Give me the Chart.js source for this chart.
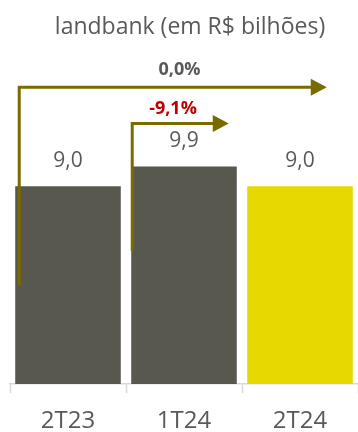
<!DOCTYPE html>
<html>
<head>
<meta charset="utf-8">
<script src="https://cdn.jsdelivr.net/npm/chart.js@4/dist/chart.umd.min.js"></script>
<style>
html,body{margin:0;padding:0;background:#fff;}
#wrap{width:358px;height:432px;}
</style>
</head>
<body>
<div id="wrap"><canvas id="chartLandbank"></canvas></div>
<script>
const chartTitle = "landbank (em R$ bilhões)";
const periods = ["2T23", "1T24", "2T24"];
const landbank = [9.0, 9.9, 9.0];
const barColors = ["#58584f", "#58584f", "#e6d800"];

/* variações (setas) */
const changeLabels = ["0,0%", "-9,1%"];
const changeFrom = [0, 1];
const changeColors = ["#595959", "#c00000"];

const GREY = "#595959";
const OLIVE = "#7a6b00";
const FONT = "'Open Sans', sans-serif";

function fmt(v){
return v.toFixed(1).replace(".", ",");
}

/* título, deslocado um pouco para a direita */
const titlePlugin = {
id: "titleText",
afterDraw(chart){
const ctx = chart.ctx;
ctx.save();
ctx.font = "23px " + FONT;
ctx.fillStyle = GREY;
ctx.textAlign = "center";
ctx.textBaseline = "middle";
ctx.fillText(chartTitle, 190, 27);
ctx.restore();
}
};

/* valores acima das barras */
const valueLabels = {
id: "valueLabels",
afterDatasetsDraw(chart){
const ctx = chart.ctx;
const meta = chart.getDatasetMeta(0);
ctx.save();
ctx.font = "21px " + FONT;
ctx.fillStyle = GREY;
ctx.textAlign = "center";
ctx.textBaseline = "middle";
meta.data.forEach((bar, i)=>{
ctx.fillText(fmt(landbank[i]), bar.x, bar.y - 25);
});
ctx.restore();
}
};

/* setas de variação */
const arrowPlugin = {
id: "arrows",
afterDatasetsDraw(chart){
const ctx = chart.ctx;
const y = chart.scales.y;
const x = chart.scales.x;
const meta = chart.getDatasetMeta(0);
const setup = [
{ dx: 4, low: 4.5, high: 13.5, tipFrom: 2, tipDx: -26, textDx: -4.5, textDy: -17 },
{ dx: 1, low: 6.05, high: 11.86, tipFrom: 1, tipDx: -8, textDx: -11, textDy: -15 }
];
ctx.save();
setup.forEach((s, k)=>{
const bar = meta.data[changeFrom[k]];
const tipBar = meta.data[s.tipFrom];
const x0 = bar.x - bar.width/2 + s.dx;
const y0 = y.getPixelForValue(s.low);
const y1 = y.getPixelForValue(s.high);
const tip = tipBar.x + tipBar.width/2 + s.tipDx;
ctx.strokeStyle = OLIVE;
ctx.fillStyle = OLIVE;
ctx.lineWidth = 3;
ctx.beginPath();
ctx.moveTo(x0, y0);
ctx.lineTo(x0, y1);
ctx.lineTo(tip - 15, y1);
ctx.stroke();
ctx.beginPath();
ctx.moveTo(tip - 16, y1 - 8.5);
ctx.lineTo(tip, y1);
ctx.lineTo(tip - 16, y1 + 8.5);
ctx.closePath();
ctx.fill();
ctx.font = "bold 18px " + FONT;
ctx.fillStyle = changeColors[k];
ctx.textAlign = "center";
ctx.textBaseline = "middle";
ctx.fillText(changeLabels[k], x.getPixelForValue(1) + s.textDx, y1 + s.textDy);
});
ctx.restore();
}
};

new Chart(document.getElementById("chartLandbank"),{
type:"bar",
data:{
labels:periods,
datasets:[{
data:landbank,
backgroundColor:barColors,
categoryPercentage:1,
barPercentage:0.91
}]
},
options:{
responsive:true,
maintainAspectRatio:false,
animation:false,
layout:{ padding:{ left:10, right:0, top:50, bottom:0 } },
plugins:{
legend:{ display:false },
tooltip:{ enabled:false },
title:{ display:false }
},
scales:{
y:{
display:false,
min:0,
max:15.2
},
x:{
grid:{
drawOnChartArea:false,
drawTicks:true,
tickLength:9,
tickWidth:1.5,
color:"#d9d9d9"
},
border:{ color:"#d9d9d9", width:1.5 },
ticks:{
color:GREY,
font:{ family:FONT, size:24 },
padding:14
},
afterFit(scale){ scale.height = 48; }
}
}
},
plugins:[titlePlugin, valueLabels, arrowPlugin]
});
</script>
</body>
</html>
